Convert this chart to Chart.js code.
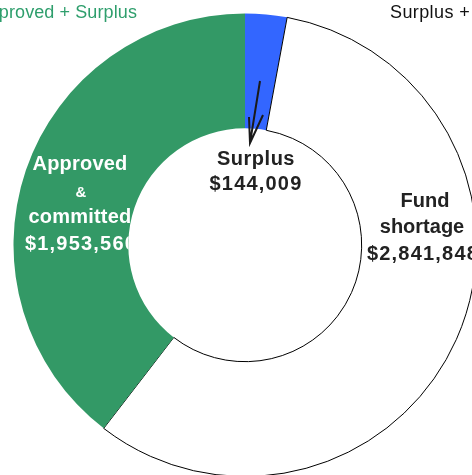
<!DOCTYPE html>
<html>
<head>
<meta charset="utf-8">
<script src="https://cdn.jsdelivr.net/npm/chart.js@4"></script>
<style>
  html, body { margin: 0; padding: 0; background: #fff; overflow: hidden; }
  #wrap { position: absolute; left: 0; top: 0; width: 490px; height: 490px; }
</style>
</head>
<body>
<div id="wrap"><canvas id="fund-chart" width="490" height="490"></canvas></div>
<script>
// Chart data
const categories = ['Surplus', 'Fund shortage', 'Approved & committed'];
const amounts = [144009, 2841848, 1953560];
const sliceColors = ['#3366ff', '#ffffff', '#339966'];
const sliceBorders = ['#3366ff', '#000000', '#339966'];
const sliceBorderWidths = [0, 1, 0];

const fmt = v => '$' + v.toLocaleString('en-US');

// draw text with letter spacing
function text(ctx, str, x, y, font, color, align, spacing) {
    ctx.font = font;
    ctx.fillStyle = color;
    ctx.textAlign = align;
    ctx.textBaseline = 'alphabetic';
    ctx.letterSpacing = (spacing || 0) + 'px';
    ctx.fillText(str, x, y);
}

const labelPlugin = {
    id: 'sliceLabels',
    afterDatasetsDraw(chart) {
        const ctx = chart.ctx;
        const arc = chart.getDatasetMeta(0).data[0];
        const cx = arc.x, cy = arc.y, inner = arc.innerRadius;
        const bold = 'bold 20px "Liberation Sans"';

        ctx.save();
        // header texts (partly cut off)
        text(ctx, 'Approved + Surplus', cx - 108, cy - 227, '18px "Liberation Sans"', '#2e9e6c', 'right', 0.1);
        text(ctx, 'Surplus +', cx + 145, cy - 227, '18px "Liberation Sans"', '#111', 'left', 0.4);

        // arrow to the surplus slice
        ctx.strokeStyle = '#1a1a1a';
        ctx.lineWidth = 2;
        ctx.beginPath();
        ctx.moveTo(cx + 15, cy - 164);
        ctx.lineTo(cx + 5, cy - 102);
        ctx.moveTo(cx + 4, cy - 128);
        ctx.lineTo(cx + 5, cy - 102);
        ctx.lineTo(cx + 18, cy - 130);
        ctx.stroke();

        // surplus label
        text(ctx, categories[0], cx + 11, cy - 80, bold, '#222', 'center', 0.5);
        text(ctx, fmt(amounts[0]), cx + 11, cy - 55, bold, '#222', 'center', 1.2);

        // fund shortage label
        text(ctx, 'Fund', cx + 180, cy - 38, bold, '#222', 'center', 0);
        text(ctx, 'shortage', cx + 177, cy - 12, bold, '#222', 'center', 0);
        text(ctx, fmt(amounts[1]), cx + 178, cy + 15, bold, '#222', 'center', 1.2);

        // approved label, clipped by the hole
        ctx.beginPath();
        ctx.rect(0, 0, chart.width, chart.height);
        ctx.arc(cx, cy, inner, 0, Math.PI * 2, true);
        ctx.clip('evenodd');
        text(ctx, 'Approved', cx - 165, cy - 75, bold, '#fff', 'center', 0.2);
        text(ctx, '&', cx - 164, cy - 48, 'bold 15px "Liberation Sans"', '#fff', 'center', 0);
        text(ctx, 'committed', cx - 165, cy - 22, bold, '#fff', 'center', 0.2);
        text(ctx, fmt(amounts[2]), cx - 164, cy + 5, bold, '#fff', 'center', 1.2);
        ctx.restore();
    }
};

const fundCtx = document.querySelector('#fund-chart').getContext('2d');
const fundGraph = new Chart(fundCtx, {
    type: 'doughnut',
    data: {
        labels: categories,
        datasets: [{
            data: amounts,
            backgroundColor: sliceColors,
            borderColor: sliceBorders,
            borderWidth: sliceBorderWidths
        }]
    },
    options: {
        responsive: false,
        animation: false,
        devicePixelRatio: 1,
        cutout: '50.4%',
        layout: { padding: 13 },
        plugins: {
            legend: { display: false },
            tooltip: { enabled: false }
        }
    },
    plugins: [labelPlugin]
});
</script>
</body>
</html>
